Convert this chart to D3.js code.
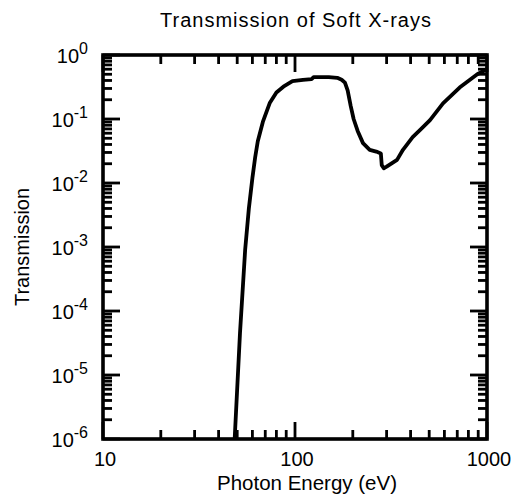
<!DOCTYPE html>
<html>
<head>
<meta charset="utf-8">
<script src="https://cdn.jsdelivr.net/npm/d3@7"></script>
<style>
  body { margin: 0; background: #fff; overflow: hidden; }
  svg { display: block; }
  text { font-family: "Liberation Sans", Arial, Helvetica, sans-serif; fill: #000; }
</style>
</head>
<body>
<div id="chart"></div>
<script>
// Transmission curve (photon energy in eV, transmission fraction)
const energy = [48.5, 51.7, 55, 57.5, 60, 62, 64, 68, 74, 80, 87, 97, 110, 122, 125, 150, 166, 175, 182, 188, 195, 202, 212, 226, 245, 265, 280, 283, 290, 300, 340, 365, 410, 450, 505, 590, 720, 890, 1000];
const transmission = [1e-6, 4.5e-5, 9e-4, 4e-3, 0.012, 0.025, 0.045, 0.09, 0.18, 0.26, 0.32, 0.39, 0.41, 0.42, 0.45, 0.45, 0.44, 0.41, 0.37, 0.28, 0.16, 0.1, 0.065, 0.042, 0.033, 0.031, 0.029, 0.019, 0.017, 0.018, 0.023, 0.033, 0.052, 0.068, 0.096, 0.175, 0.31, 0.5, 0.6];

const xTickLabels = ['10', '100', '1000'];
const yTickExponents = ['0', '-1', '-2', '-3', '-4', '-5', '-6'];

const W = 513, H = 495;
const plot = { left: 103, right: 487, top: 55, bottom: 439 };

const svg = d3.select('#chart').append('svg')
    .attr('width', W)
    .attr('height', H);

const xScale = d3.scaleLog().domain([10, 1000]).range([plot.left, plot.right]);
const yScale = d3.scaleLog().domain([1e-6, 1]).range([plot.bottom, plot.top]);

const isMajor = v => Math.abs(Math.log10(v) - Math.round(Math.log10(v))) < 1e-6;
const tickLen = v => (isMajor(v) ? 17 : 9);
const tw = 2.8;

// inward ticks on all four sides, drawn as small filled bars
const xTicks = xScale.ticks();
const yTicks = yScale.ticks();
const tickG = svg.append('g').attr('fill', '#000');

tickG.selectAll('rect.xb')
    .data(xTicks)
    .join('rect')
    .attr('class', 'xb')
    .attr('x', d => xScale(d) - tw / 2)
    .attr('y', d => plot.bottom - tickLen(d))
    .attr('width', tw)
    .attr('height', d => tickLen(d));

tickG.selectAll('rect.xt')
    .data(xTicks)
    .join('rect')
    .attr('class', 'xt')
    .attr('x', d => xScale(d) - tw / 2)
    .attr('y', plot.top)
    .attr('width', tw)
    .attr('height', d => tickLen(d));

tickG.selectAll('rect.yl')
    .data(yTicks)
    .join('rect')
    .attr('class', 'yl')
    .attr('x', plot.left)
    .attr('y', d => yScale(d) - tw / 2)
    .attr('width', d => tickLen(d))
    .attr('height', tw);

tickG.selectAll('rect.yr')
    .data(yTicks)
    .join('rect')
    .attr('class', 'yr')
    .attr('x', d => plot.right - tickLen(d))
    .attr('y', d => yScale(d) - tw / 2)
    .attr('width', d => tickLen(d))
    .attr('height', tw);

// frame
svg.append('rect')
    .attr('x', plot.left)
    .attr('y', plot.top)
    .attr('width', plot.right - plot.left)
    .attr('height', plot.bottom - plot.top)
    .attr('fill', 'none')
    .attr('stroke', '#000')
    .attr('stroke-width', 3.6);

// curve
const curve = d3.line()
    .x(d => xScale(d[0]))
    .y(d => yScale(d[1]));

svg.append('path')
    .datum(energy.map((e, i) => [e, transmission[i]]))
    .attr('d', curve)
    .attr('fill', 'none')
    .attr('stroke', '#000')
    .attr('stroke-width', 3.8)
    .attr('stroke-linejoin', 'round');

// x tick labels
xTickLabels.forEach(t => {
    svg.append('text')
        .attr('x', xScale(+t) + 2)
        .attr('y', 466)
        .attr('text-anchor', 'middle')
        .style('font-size', '20px')
        .text(t);
});

// y tick labels: 10^n
yTickExponents.forEach(e => {
    const t = svg.append('text')
        .attr('x', 88)
        .attr('y', yScale(Math.pow(10, +e)) + 8)
        .attr('text-anchor', 'end')
        .style('font-size', '20px');
    t.append('tspan').text('10');
    t.append('tspan')
        .attr('dy', -9)
        .style('font-size', '16px')
        .text(e);
});

// titles
svg.append('text')
    .attr('x', 296)
    .attr('y', 27)
    .attr('text-anchor', 'middle')
    .style('font-size', '20px')
    .style('letter-spacing', '1px')
    .text('Transmission of Soft X-rays');

svg.append('text')
    .attr('x', 307)
    .attr('y', 490)
    .attr('text-anchor', 'middle')
    .style('font-size', '20.5px')
    .text('Photon Energy (eV)');

svg.append('text')
    .attr('transform', `translate(29,${(plot.top + plot.bottom) / 2}) rotate(-90)`)
    .attr('text-anchor', 'middle')
    .style('font-size', '20px')
    .text('Transmission');
</script>
</body>
</html>
